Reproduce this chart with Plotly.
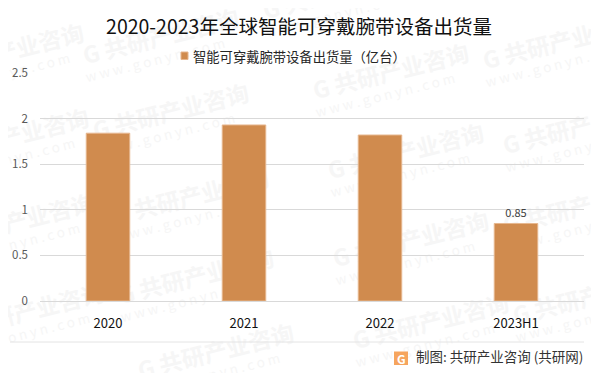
import plotly.graph_objects as go

W, H = 599, 373
PAGE = 8  # page margin around the figure
L, R, T, B = 40, 584, 73, 301

categories = ["2020", "2021", "2022", "2023H1"]
shipments = [1.84, 1.93, 1.82, 0.85]
data_labels = ["", "", "", "0.85"]
y_ticks = [0, 0.5, 1, 1.5, 2, 2.5]
y_tick_labels = ["0", "0.5", "1", "1.5", "2", "2.5"]
series_name = "智能可穿戴腕带设备出货量（亿台）"
title_text = "2020-2023年全球智能可穿戴腕带设备出货量"
source_text = "制图: 共研产业咨询 (共研网)"
mark_name = "共研产业咨询"
mark_url = "w w w . g o n y n . c o m"
mark_centres = [(5, 60), (160, 45), (390, 80), (560, 50), (340, 0),
                (10, 145), (170, 120), (405, 160), (580, 135),
                (15, 230), (190, 205), (410, 248), (580, 215),
                (25, 320), (195, 285), (430, 330), (590, 305), (215, 360)]

FONT = "Noto Sans CJK SC"


def px(x):
    return (x - L) / (R - L)


def py(y):
    return (B - y) / (B - T)


shapes = []
for cx, cy in mark_centres:
    for dy, txt, size, weight, w in [(-6, "G " + mark_name, 23, "bold", 230),
                                     (17, mark_url, 13.5, "normal", 230)]:
        ox, oy = cx - dy * 0.26, cy + dy * 0.97
        shapes.append(dict(
            type="rect", xref="paper", yref="paper", layer="below",
            x0=px(ox - w / 2), x1=px(ox + w / 2), y0=py(oy + 42), y1=py(oy - 42),
            line=dict(width=0), fillcolor="rgba(0,0,0,0)",
            label=dict(text=txt, textangle=-14, textposition="middle center",
                       font=dict(family=FONT, size=size, weight=weight, color="#F6F6F6")),
        ))

# footer rule, logo and legend swatch
shapes.append(dict(type="line", xref="paper", yref="paper", layer="below",
                   x0=px(10), x1=px(584), y0=py(342), y1=py(342),
                   line=dict(color="#E4E4E4", width=1)))
shapes.append(dict(type="rect", xref="paper", yref="paper", layer="above",
                   x0=px(394), x1=px(408), y0=py(365), y1=py(351.5),
                   line=dict(width=0), fillcolor="#F6A55E"))
shapes.append(dict(type="rect", xref="paper", yref="paper", layer="above",
                   x0=px(181), x1=px(188), y0=py(59.5), y1=py(52),
                   line=dict(color="#E6B68E", width=1), fillcolor="#D08B4E"))

fig = go.Figure(go.Bar(
    x=categories, y=shipments, name=series_name, showlegend=False,
    width=0.32, text=data_labels, textposition="outside", cliponaxis=False,
    textfont=dict(family=FONT, size=11, color="#404040"),
    marker=dict(color="#D08B4E", line=dict(color="#E6B68E", width=1)),
))

fig.update_layout(
    width=W - PAGE, height=H - PAGE,
    margin=dict(l=L - PAGE, r=W - R, t=T - PAGE, b=H - B, autoexpand=False),
    paper_bgcolor="white", plot_bgcolor="rgba(0,0,0,0)",
    font=dict(family=FONT),
    title=dict(text=title_text, x=(299 - PAGE) / (W - PAGE), xanchor="center",
               y=1 - (27 - PAGE) / (H - PAGE), yanchor="middle",
               font=dict(family=FONT, size=19.5, color="#111111")),
    xaxis=dict(type="category", showgrid=False, showline=True, linecolor="#D9D9D9", linewidth=1,
               ticks="", ticklabelstandoff=10, zeroline=False,
               tickfont=dict(family=FONT, size=13, color="#111111")),
    yaxis=dict(range=[0, 2.5], tickvals=y_ticks, ticktext=y_tick_labels,
               gridcolor="#D9D9D9", gridwidth=1, zeroline=False, showline=False,
               ticks="", ticklabelstandoff=11,
               tickfont=dict(family=FONT, size=11.5, color="#595959")),
    shapes=shapes,
    annotations=[
        dict(text=series_name, xref="paper", yref="paper", x=px(191), y=py(56),
             xanchor="left", yanchor="middle", showarrow=False,
             font=dict(family=FONT, size=13.3, color="#262626")),
        dict(text=source_text, xref="paper", yref="paper", x=px(585), y=py(356),
             xanchor="right", yanchor="middle", showarrow=False,
             font=dict(family=FONT, size=13.5, color="#333333")),
        dict(text="<b>G</b>", xref="paper", yref="paper", x=px(401), y=py(358),
             xanchor="center", yanchor="middle", showarrow=False,
             font=dict(family=FONT, size=12, color="white")),
    ],
)

fig.write_html("out.html")
